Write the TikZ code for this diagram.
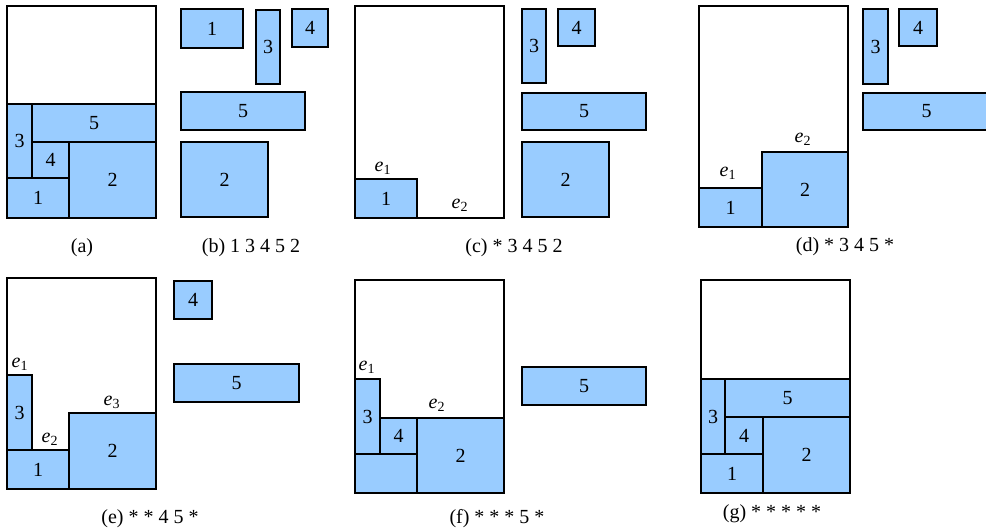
\documentclass[tikz,border=0pt]{standalone}
\usepackage{fontspec}
\setmainfont{Liberation Serif}
\begin{document}
\begin{tikzpicture}[x=0.75pt,y=-0.75pt,
  blk/.style={draw=black,fill=blockblue,line width=1.1pt},
  cont/.style={draw=black,line width=1.1pt},
  lbl/.style={inner sep=0pt,font=\fontsize{15}{17}\selectfont},
  capt/.style={inner sep=0pt,font=\fontsize{15}{17}\selectfont},
  elbl/.style={inner sep=0pt,font=\fontsize{15}{17}\selectfont}]
\definecolor{blockblue}{RGB}{153,204,255}
\newcommand\blk[6]{\draw[blk] (#2,#3) rectangle (#4,#5); \node[lbl] (#1) at ({(#2+#4)/2},{(#3+#5)/2}) {#6};}
\newcommand\elab[3]{\node[elbl] (#1) at (#2) {\itshape e\textsubscript{\upshape #3}};}
\useasboundingbox (0,0) rectangle (986,531);
% (a)
\draw[cont] (7,6) rectangle (156,218);
\blk{a3}{7}{104}{32}{178}{3}
\blk{a5}{32}{104}{156}{142}{5}
\blk{a4}{32}{142}{69}{178}{4}
\blk{a1}{7}{178}{69}{218}{1}
\blk{a2}{69}{142}{156}{218}{2}
\node[capt] (capa) at (82,248) {(a)};
% (b)
\blk{b1}{181}{9}{243}{48}{1}
\blk{b3}{256}{10}{280}{84}{3}
\blk{b4}{292}{9}{328}{47}{4}
\blk{b5}{181}{92}{305}{130}{5}
\blk{b2}{181}{142}{268}{217}{2}
\node[capt] (capb) at (251,248) {(b) 1 3 4 5 2};
% (c)
\draw[cont] (355,6) rectangle (504,218);
\blk{c1}{355}{179}{417}{218}{1}
\elab{ce1}{383,168}{1}
\elab{ce2}{460,205}{2}
\blk{c3}{522}{9}{546}{83}{3}
\blk{c4}{558}{9}{595}{46}{4}
\blk{c5}{522}{93}{646}{130}{5}
\blk{c2}{522}{142}{609}{217}{2}
\node[capt] (capc) at (514,248) {(c) * 3 4 5 2};
% (d)
\draw[cont] (699,6) rectangle (848,227);
\blk{d1}{699}{188}{762}{227}{1}
\blk{d2}{762}{152}{848}{227}{2}
\elab{de1}{728,173}{1}
\elab{de2}{803,139}{2}
\blk{d3}{863}{9}{888}{84}{3}
\blk{d4}{899}{9}{937}{46}{4}
\begin{scope}
\clip (850,0) rectangle (986,531);
\blk{d5}{863}{93}{990}{130}{5}
\end{scope}
\node[capt] (capd) at (845,247) {(d) * 3 4 5 *};
% (e)
\draw[cont] (7,278) rectangle (156,489);
\blk{e3}{7}{375}{32}{450}{3}
\blk{e1}{7}{450}{69}{489}{1}
\blk{e2}{69}{413}{156}{489}{2}
\elab{ee1}{20,364}{1}
\elab{ee2}{50,439}{2}
\elab{ee3}{112,402}{3}
\blk{e4}{174}{281}{212}{319}{4}
\blk{e5}{174}{364}{299}{402}{5}
\node[capt] (cape) at (150,519) {(e) * * 4 5 *};
% (f)
\draw[cont] (355,280) rectangle (504,493);
\blk{f3}{355}{379}{380}{454}{3}
\blk{f4}{380}{418}{417}{454}{4}
\blk{f1}{355}{454}{417}{493}{}
\blk{f2}{417}{418}{504}{493}{2}
\elab{fe1}{367,367}{1}
\elab{fe2}{437,405}{2}
\blk{f5}{522}{367}{646}{405}{5}
\node[capt] (capf) at (497,519) {(f) * * * 5 *};
% (g)
\draw[cont] (701,280) rectangle (850,493);
\blk{g3}{701}{379}{725}{454}{3}
\blk{g5}{725}{379}{850}{417}{5}
\blk{g4}{725}{417}{763}{454}{4}
\blk{g1}{701}{454}{763}{493}{1}
\blk{g2}{763}{417}{850}{493}{2}
\node[capt] (capg) at (772,514) {(g) * * * * *};
\end{tikzpicture}
\end{document}
